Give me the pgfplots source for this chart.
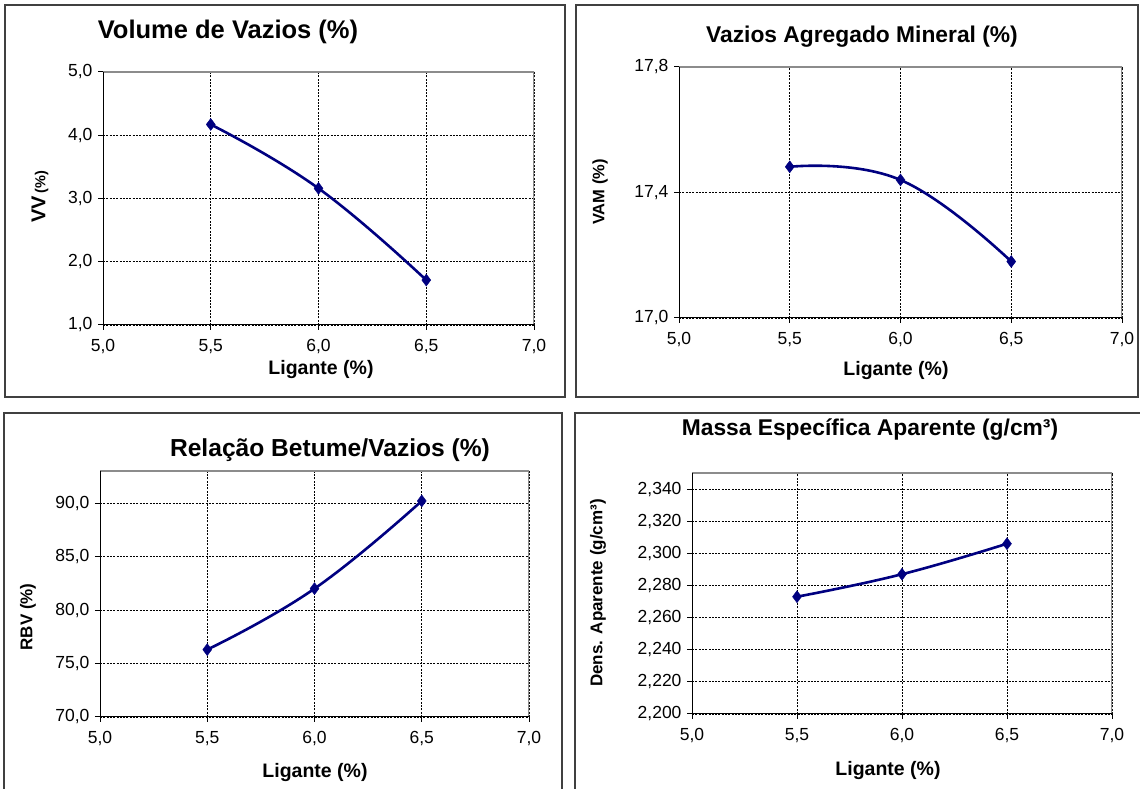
\documentclass[border=0pt]{standalone}
\usepackage{fontspec}
\setmainfont{Liberation Sans}
\usepackage{pgfplots}
\pgfplotsset{compat=1.18}

\definecolor{navy}{HTML}{000080}
\definecolor{framegray}{HTML}{404040}
\definecolor{boxgray}{HTML}{8C8C8C}

\newcommand{\ticksize}{\fontsize{17.5}{19}\selectfont}
\newcommand{\titlesize}[1]{\fontsize{#1}{#1}\selectfont\bfseries}
\newcommand{\labelsize}{\fontsize{19.5}{21}\selectfont\bfseries}

\pgfplotsset{
  panel/.style={
    scale only axis,
    anchor=south west,
    axis line style={draw=none},
    tick align=outside,
    xtick pos=left, ytick pos=left,
    major tick length=5pt,
    every tick/.style={black, line width=1pt},
    grid=major,
    major grid style={black, line width=0.8pt, dash pattern=on 2pt off 1.3pt},
    xmin=5, xmax=7, xtick={5,5.5,6,6.5,7},
    tick label style={font=\ticksize},
    /pgf/number format/assume math mode=true,
    /pgf/number format/use comma,
    /pgf/number format/fixed,
    /pgf/number format/fixed zerofill,
    /pgf/number format/precision=1,
    xticklabel style={yshift=-6pt},
    yticklabel style={xshift=-2pt},
  },
  series/.style={navy, line width=2.6pt, smooth, tension=0.75,
    mark=diamond*, mark size=6pt,
    mark options={fill=navy, draw=navy, line width=0.4pt, solid}},
}

% plot-area edges: black on the left and bottom, grey on the top and right
\newcommand{\plotframe}{%
  \draw[boxgray, line width=1.4pt] (rel axis cs:0,1) -- (rel axis cs:1,1) -- (rel axis cs:1,0);
  \draw[black, line width=1.4pt] (rel axis cs:0,1) -- (rel axis cs:0,0) -- (rel axis cs:1,0);
}

\begin{document}
\begin{tikzpicture}[x=1pt, y=1pt]
\path[use as bounding box] (0,0) rectangle (1140,789);
\begin{scope}
\clip (0,0) rectangle (1140,789);
% chart frames
\draw[framegray, line width=1.5pt] (5,392) rectangle (565,784);
\draw[framegray, line width=1.5pt] (576,392) rectangle (1138,784);
\draw[framegray, line width=1.5pt] (4,-10) rectangle (562,376);
\draw[framegray, line width=1.5pt] (575,-10) rectangle (1150,376);
\end{scope}

% Volume de Vazios
\begin{axis}[panel, at={(103pt,464pt)}, width=431pt, height=253pt,
  ymin=1, ymax=5, ytick={1,2,3,4,5}]
  \addplot[series] coordinates {(5.5,4.17) (6.0,3.16) (6.5,1.71)};
  \plotframe
\end{axis}
\node[font=\titlesize{25.5}] at (228,757) {Volume de Vazios (\%)};
\node[font=\labelsize] at (321,419) {Ligante (\%)};
\node[rotate=90] at (40,592) {{\fontsize{20}{20}\selectfont\bfseries VV} {\fontsize{14.5}{15}\selectfont\bfseries (\%)}};

% Vazios Agregado Mineral
\begin{axis}[panel, at={(679pt,471pt)}, width=443pt, height=251pt,
  ymin=17, ymax=17.8, ytick={17,17.4,17.8}]
  \addplot[series] coordinates {(5.5,17.482) (6.0,17.44) (6.5,17.18)};
  \plotframe
\end{axis}
\node[font=\titlesize{22.8}] at (862,752) {Vazios Agregado Mineral (\%)};
\node[font=\labelsize] at (896,418) {Ligante (\%)};
\node[rotate=90, font=\fontsize{16.5}{17}\selectfont\bfseries] at (600,597) {VAM (\%)};

% Relacao Betume/Vazios
\begin{axis}[panel, at={(100pt,72pt)}, width=429pt, height=246pt,
  ymin=70, ymax=93, ytick={70,75,80,85,90}]
  \addplot[series] coordinates {(5.5,76.3) (6.0,82.0) (6.5,90.2)};
  \plotframe
\end{axis}
\node[font=\titlesize{24.6}] at (330,339) {Relação Betume/Vazios (\%)};
\node[font=\labelsize] at (315,16) {Ligante (\%)};
\node[rotate=90, font=\fontsize{17}{18}\selectfont\bfseries] at (28,172) {RBV (\%)};

% Massa Especifica Aparente
\begin{axis}[panel, at={(692pt,75pt)}, width=420pt, height=241pt,
  ymin=2.2, ymax=2.35, ytick={2.2,2.22,...,2.34},
  yticklabel style={/pgf/number format/precision=3}]
  \addplot[series] coordinates {(5.5,2.273) (6.0,2.287) (6.5,2.306)};
  \plotframe
\end{axis}
\node[font=\titlesize{22.8}] at (870,359) {Massa Específica Aparente (g/cm³)};
\node[font=\labelsize] at (888,18) {Ligante (\%)};
\node[rotate=90, font=\fontsize{17}{18}\selectfont\bfseries] at (598,196) {Dens. Aparente (g/cm³)};
\end{tikzpicture}
\end{document}
